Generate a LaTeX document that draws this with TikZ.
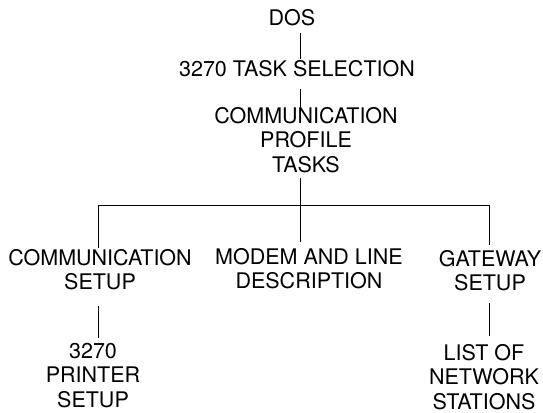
\documentclass[tikz,border=0pt]{standalone}
\usepackage{fontspec}
\setmainfont{TeX Gyre Heros}

\begin{document}
\begin{tikzpicture}[
    x=1pt, y=-1pt,
    menunode/.style={align=center, inner sep=0pt, anchor=north, font=\fontsize{21.5}{24.5}\selectfont},
    link/.style={line width=0.9pt}
]
\useasboundingbox (0,0) rectangle (543,412);

% Top chain
\node[menunode] (dos)  at (292, 9)   {DOS};
\node[menunode] (sel)  at (297, 60)  {3270 TASK SELECTION};
\node[menunode] (prof) at (306, 107) {COMMUNICATION\\PROFILE\\TASKS};

% Second level
\node[menunode] (comm)  at (100, 249) {COMMUNICATION\\SETUP};
\node[menunode] (modem) at (309, 248) {MODEM AND LINE\\DESCRIPTION};
\node[menunode] (gate)  at (490, 250) {GATEWAY\\SETUP};

% Third level
\node[menunode] (printer) at (93, 343)  {3270\\PRINTER\\SETUP};
\node[menunode] (list)    at (484, 344) {LIST OF\\NETWORK\\STATIONS};

% Bus coordinates
\coordinate (busL) at (98, 205);
\coordinate (busM) at (300, 205);
\coordinate (busR) at (489, 205);

% Connectors: top chain
\draw[link] ([yshift=-7pt]dos.south -| busM) -- ([yshift=1pt]sel.north -| busM);
\draw[link] ([yshift=-12pt]sel.south -| busM) -- ([yshift=-5pt]prof.north -| busM);
\draw[link] ([yshift=-5pt]prof.south -| busM) -- (busM);

% Connectors: bus and branches
\draw[link] (busL) -- (busR);
\draw[link] (busL) -- ([yshift=1pt]comm.north -| busL);
\draw[link] (busM) -- ([yshift=6pt]modem.north -| busM);
\draw[link] (busR) -- ([yshift=5pt]gate.north -| busR);

% Connectors: third level
\draw[link] ([yshift=-16pt]comm.south -| busL) -- ([yshift=5pt]printer.north -| busL);
\draw[link] ([yshift=-12pt]gate.south -| busR) -- ([yshift=8pt]list.north -| busR);

\end{tikzpicture}
\end{document}
